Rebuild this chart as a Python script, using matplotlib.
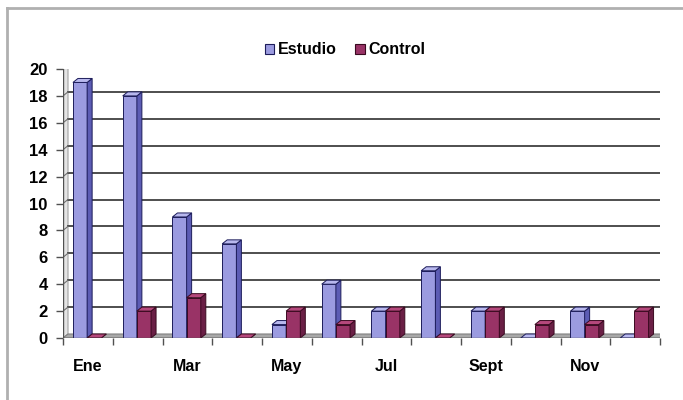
import numpy as np
import matplotlib.pyplot as plt
from matplotlib.patches import Polygon, Rectangle
from matplotlib.transforms import ScaledTranslation
from matplotlib.lines import Line2D

plt.rcParams['font.family'] = ['Liberation Sans', 'DejaVu Sans']
plt.rcParams['font.weight'] = 'bold'

meses = ['Ene', 'Feb', 'Mar', 'Abr', 'May', 'Jun', 'Jul', 'Ago', 'Sept', 'Oct', 'Nov', 'Dic']
estudio = [19, 18, 9, 7, 1, 4, 2, 5, 2, 0, 2, 0]
control = [0, 2, 3, 0, 2, 1, 2, 0, 2, 1, 1, 2]

fig = plt.figure(figsize=(6.83, 4.0), dpi=100)
ax = fig.add_axes([63/683, 62/400, 597/683, 269/400])
ax.set_xlim(0, 12)
ax.set_ylim(0, 20)
ax.set_facecolor('none')
for s in ax.spines.values():
    s.set_visible(False)

# depth offset of the pseudo-3D box (pixels right / up)
back = ax.transData + ScaledTranslation(5/100, 4/100, fig.dpi_scale_trans)
inv = ax.transData.inverted()

def shift(x, y):
    return inv.transform(back.transform((x, y)))

# left wall and floor
wall = [(0, 0), (0, 20), tuple(shift(0, 20)), tuple(shift(0, 0))]
ax.add_patch(Polygon(wall, closed=True, fc='#e4e4e4', ec='#a0a0a0', lw=0.8, zorder=1))
floor = [(0, 0), (12, 0), tuple(shift(12, 0)), tuple(shift(0, 0))]
ax.add_patch(Polygon(floor, closed=True, fc='#a8a8a8', ec='#808080', lw=0.8, zorder=1))

# gridlines on the back wall
for y in range(2, 21, 2):
    ax.plot([0, 12], [y, y], transform=back, color='#404040', lw=1.3, zorder=2)
    p = shift(0, y)
    ax.plot([0, p[0]], [y, p[1]], color='#707070', lw=0.8, zorder=2)
ax.plot([12, 12], [0, 20], transform=back, color='#b0b0b0', lw=1.2, zorder=2)

# bars with side and top faces
w = 0.285
series = [(estudio, 0.2, '#9b9be0', '#5c5cb4', '#b8b8ee', '#1c1c5a'),
          (control, 0.2 + w, '#993366', '#6a1f45', '#b5487c', '#3a0a20')]
z = 3
for i in range(len(meses)):
    for vals, off, front, side, top, edge in series:
        x0 = i + off
        x1 = x0 + w
        h = vals[i]
        ax.bar(x0, h, width=w, align='edge', color=front, edgecolor=edge,
               lw=0.7, zorder=z)
        sd = [(x1, 0), (x1, h), tuple(shift(x1, h)), tuple(shift(x1, 0))]
        ax.add_patch(Polygon(sd, closed=True, fc=side, ec=edge, lw=0.7, zorder=z))
        tp = [(x0, h), (x1, h), tuple(shift(x1, h)), tuple(shift(x0, h))]
        ax.add_patch(Polygon(tp, closed=True, fc=top, ec=edge, lw=0.7, zorder=z))
        z += 1

# axes
ax.plot([0, 0], [0, 20], color='#505050', lw=1.0, zorder=z)
ax.plot([0, 12], [0, 0], color='#505050', lw=1.0, zorder=z)

ax.set_yticks(range(0, 21, 2))
ax.tick_params(axis='y', length=5, width=1, color='#505050', pad=6, labelsize=12)
ax.set_xticks(range(0, 13))
ax.set_xticklabels([])
ax.tick_params(axis='x', which='major', length=5, width=1, color='#505050')
ax.set_xticks(np.arange(0.5, 12, 2), minor=True)
ax.set_xticklabels(meses[::2], minor=True)
ax.tick_params(axis='x', which='minor', length=0, pad=15, labelsize=11.5)

handles = [Rectangle((0, 0), 1, 1, fc='#9b9be0', ec='#1c1c5a', lw=0.8),
           Rectangle((0, 0), 1, 1, fc='#993366', ec='#3a0a20', lw=0.8)]
fig.legend(handles, ['Estudio', 'Control'], loc='center', bbox_to_anchor=(0.505, 0.875),
           ncol=2, frameon=False, fontsize=11.5, handlelength=0.6, handleheight=0.6,
           handletextpad=0.2, columnspacing=1.2)

# outer frame
fig.add_artist(Line2D([7/683, 7/683], [0, 392/400], color='#b0b0b0', lw=2))
fig.add_artist(Line2D([7/683, 1], [392/400, 392/400], color='#b0b0b0', lw=2))

fig.savefig('out.png', dpi=100)
